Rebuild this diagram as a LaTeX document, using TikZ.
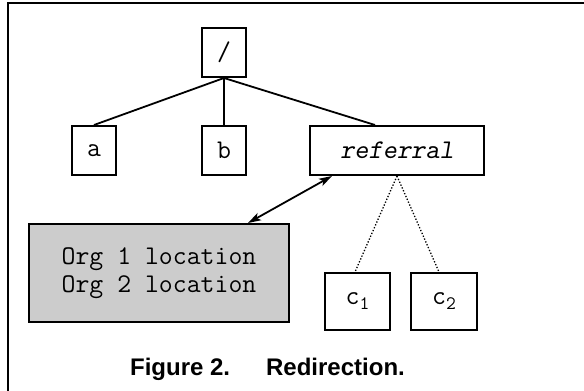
\documentclass[tikz,border=0pt]{standalone}
\usepackage{fontspec}
\setmainfont{Liberation Sans}
\usetikzlibrary{arrows.meta,calc}
\definecolor{boxgray}{RGB}{204,204,204}
\begin{document}
\begin{tikzpicture}[x=1pt,y=-1pt,
  >={Stealth[length=13pt,width=8pt,inset=3pt]},
  box/.style={draw,line width=2pt,inner sep=0pt,font=\fontsize{27}{28}\selectfont\ttfamily},
  edge/.style={line width=1.8pt},
  dotedge/.style={line width=1.3pt,dash pattern=on 1.3pt off 1.8pt}]
\useasboundingbox (0,0) rectangle (584,391);
\draw[line width=1.2pt] (8,391) -- (8,3) -- (584,3);
\node[box,minimum width=44pt,minimum height=49pt] (root) at (224,52.5) {/};
\node[box,minimum width=44pt,minimum height=49pt] (a) at (94,150.5) {a};
\node[box,minimum width=44pt,minimum height=49pt] (b) at (224,150.5) {b};
\node[box,minimum width=174pt,minimum height=49pt] (ref) at (397,150.5) {\slshape referral};
\node[box,fill=boxgray,minimum width=260pt,minimum height=98pt,align=center] (org) at (159,273) {Org 1 location\\Org 2 location};
\node[box,minimum width=65pt,minimum height=57pt] (c1) at (357.5,301.5) {c\raisebox{-5pt}{\fontsize{19}{19}\selectfont 1}};
\node[box,minimum width=66pt,minimum height=57pt] (c2) at (444,301.5) {c\raisebox{-5pt}{\fontsize{19}{19}\selectfont 2}};
\node[font=\fontsize{24}{28}\selectfont\bfseries] (cap) at (267.5,369) {Figure 2.\hspace{36pt}Redirection.};
\draw[edge] (root.south) -- (a.north);
\draw[edge] (root.south) -- (b.north);
\draw[edge] (root.south) -- (ref.north -| 375,0);
\draw[edge,<->] (org.north -| 248,0) -- (ref.south -| 332,0);
\draw[dotedge] (ref.south) -- (c1.north -| 355,0);
\draw[dotedge] (ref.south) -- (c2.north -| 439,0);
\end{tikzpicture}
\end{document}
